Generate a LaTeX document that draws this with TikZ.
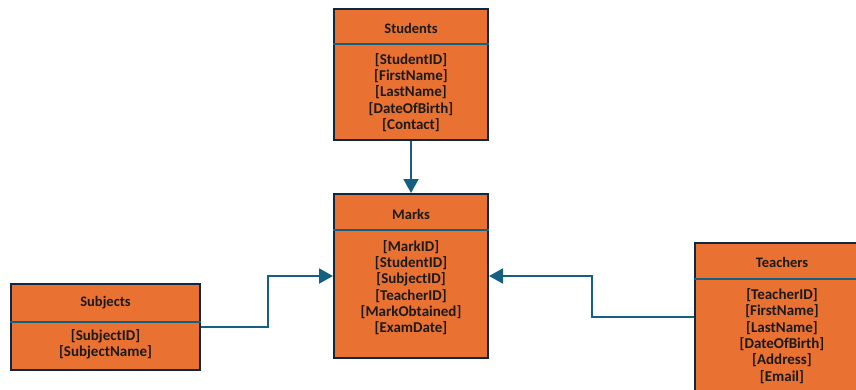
\documentclass[tikz,border=0pt]{standalone}
\usepackage{fontspec}
\setmainfont{Carlito}
\usetikzlibrary{arrows.meta}
\definecolor{tblfill}{HTML}{E97132}
\definecolor{tblline}{HTML}{0E2841}
\definecolor{keyline}{HTML}{156082}
\definecolor{ink}{HTML}{1A1A1A}
\tikzset{
  tbl/.style={draw=tblline, fill=tblfill, line width=2pt, inner sep=0pt},
  tbltitle/.style={text=ink, font=\fontsize{14.5}{16}\selectfont\bfseries},
  tblfields/.style={text=ink, align=center, font=\fontsize{15}{16.3}\selectfont\bfseries},
  divider/.style={draw=keyline, line width=2pt},
  link/.style={draw=keyline, line width=2pt, -{Triangle[length=14pt,width=15pt]}}
}
\begin{document}
\begin{tikzpicture}[x=1pt,y=-1pt]
\clip (0,0) rectangle (856,389);
\useasboundingbox (0,0) rectangle (856,389);

% tables
\node (students) at (411,74.5) [tbl, minimum width=154pt, minimum height=131pt] {};
\node (marks) at (411,276) [tbl, minimum width=154pt, minimum height=164pt] {};
\node (subjects) at (105.5,327) [tbl, minimum width=189pt, minimum height=86pt] {};
\node (teachers) at (782,317) [tbl, minimum width=174pt, minimum height=148pt] {};

\draw [divider] (students.west |- 0,44) -- (students.east |- 0,44);
\draw [divider] (marks.west |- 0,230) -- (marks.east |- 0,230);
\draw [divider] (subjects.west |- 0,322) -- (subjects.east |- 0,322);
\draw [divider] (teachers.west |- 0,279) -- (teachers.east |- 0,279);

% titles
\node (studentsTitle) at (411,28) [tbltitle] {Students};
\node (marksTitle) at (411,214) [tbltitle] {Marks};
\node (subjectsTitle) at (105.5,303) [tbltitle] {Subjects};
\node (teachersTitle) at (782,262) [tbltitle] {Teachers};

% fields
\node (studentsFields) at (411,92.5) [tblfields] {{[StudentID]}\\{[FirstName]}\\{[LastName]}\\{[DateOfBirth]}\\{[Contact]}};
\node (marksFields) at (411,287.5) [tblfields] {{[MarkID]}\\{[StudentID]}\\{[SubjectID]}\\{[TeacherID]}\\{[MarkObtained]}\\{[ExamDate]}};
\node (subjectsFields) at (105.5,344) [tblfields] {{[SubjectID]}\\{[SubjectName]}};
\node (teachersFields) at (782,336) [tblfields] {{[TeacherID]}\\{[FirstName]}\\{[LastName]}\\{[DateOfBirth]}\\{[Address]}\\{[Email]}};

% links
\draw [link] (students.south) -- (marks.north);
\draw [link] (subjects.east) -- ++(67,0) |- (marks.west);
\draw [link] (teachers.west) -- ++(-102,0) |- (marks.east);
\end{tikzpicture}
\end{document}
